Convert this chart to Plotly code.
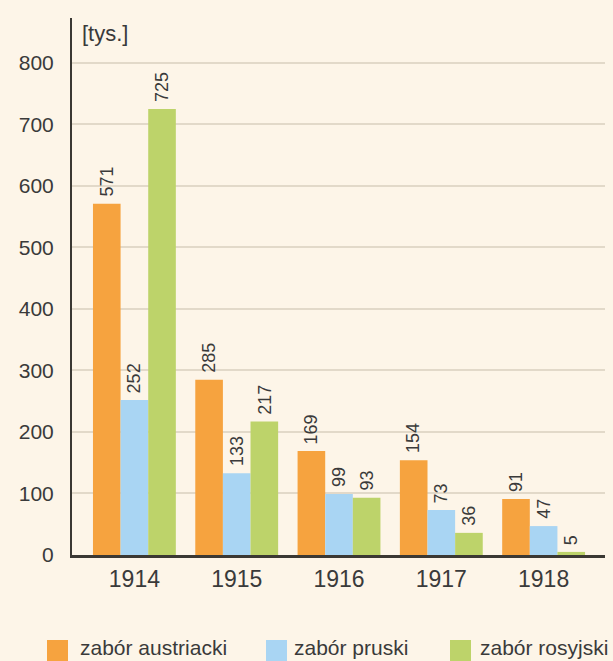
import plotly.graph_objects as go

# Data (thousands of people)
years = ["1914", "1915", "1916", "1917", "1918"]
series_names = ["zabór austriacki", "zabór pruski", "zabór rosyjski"]
austriacki = [571, 285, 169, 154, 91]
pruski = [252, 133, 99, 73, 47]
rosyjski = [725, 217, 93, 36, 5]
y_ticks = [0, 100, 200, 300, 400, 500, 600, 700, 800]
unit_label = "[tys.]"

colors = ["#F6A33F", "#A9D5F3", "#BDD36A"]
bg = "#FDF5E8"
text_color = "#3A3A3A"
font_family = "Liberation Sans, Arial, sans-serif"

W, H = 613, 661
L, R, T, B = 72, 8, 18, 106
plot_w = W - L - R
plot_h = H - T - B

x_idx = list(range(len(years)))
values = [austriacki, pruski, rosyjski]
bar_w = 0.27  # category units per bar

fig = go.Figure()
for k, (name, vals) in enumerate(zip(series_names, values)):
    fig.add_trace(go.Bar(
        x=x_idx, y=vals, name=name,
        width=bar_w, offset=(k - 1.5) * bar_w,
        marker=dict(color=colors[k], line=dict(width=0)),
        showlegend=False,
    ))

# value labels, rotated, above each bar
annotations = []
for k, vals in enumerate(values):
    for i, v in enumerate(vals):
        annotations.append(dict(
            x=i + (k - 1) * bar_w, y=v, xref="x", yref="y",
            text=str(v), textangle=-90, showarrow=False,
            xanchor="center", yanchor="bottom", yshift=5,
            font=dict(size=18, color=text_color, family=font_family),
        ))

# unit label at the top of the value axis
annotations.append(dict(
    x=(80 - L) / plot_w, y=(H - B - 33) / plot_h, xref="paper", yref="paper",
    text=unit_label, showarrow=False, xanchor="left", yanchor="middle",
    font=dict(size=22, color=text_color, family=font_family),
))

# legend drawn as colored squares with captions
shapes = []
legend_items = [(47, 78), (266, 292), (450, 478)]
sq = 21
for k, (sx, tx) in enumerate(legend_items):
    x0 = (sx - L) / plot_w
    x1 = (sx + sq - L) / plot_w
    y_top = (H - B - 640) / plot_h
    y_bot = (H - B - 661) / plot_h
    shapes.append(dict(type="rect", xref="paper", yref="paper",
                       x0=x0, x1=x1, y0=y_bot, y1=y_top,
                       fillcolor=colors[k], line=dict(width=0), layer="above"))
    annotations.append(dict(
        x=(tx - L) / plot_w, y=(H - B - 647) / plot_h, xref="paper", yref="paper",
        text=series_names[k], showarrow=False, xanchor="left", yanchor="middle",
        font=dict(size=21, color=text_color, family=font_family),
    ))

fig.update_layout(
    width=W, height=H,
    margin=dict(l=L, r=R, t=T, b=B, pad=0),
    paper_bgcolor=bg, plot_bgcolor=bg,
    barmode="overlay",
    annotations=annotations, shapes=shapes,
    font=dict(family=font_family, color=text_color),
    xaxis=dict(
        range=[-0.61, 4.6], tickvals=x_idx, ticktext=years,
        showgrid=False, zeroline=False, showline=True,
        linecolor="#3B3833", linewidth=2.5, ticks="",
        tickfont=dict(size=23, color=text_color, family=font_family),
        ticklabelstandoff=2,
        fixedrange=True,
    ),
    yaxis=dict(
        range=[0, 873], tickvals=y_ticks,
        showgrid=True, gridcolor="#E2D9C9", gridwidth=2,
        zeroline=False, showline=True, linecolor="#3B3833", linewidth=2,
        ticks="", ticklabelstandoff=12,
        tickfont=dict(size=21, color=text_color, family=font_family),
        fixedrange=True,
    ),
)

fig.write_html("out.html")
